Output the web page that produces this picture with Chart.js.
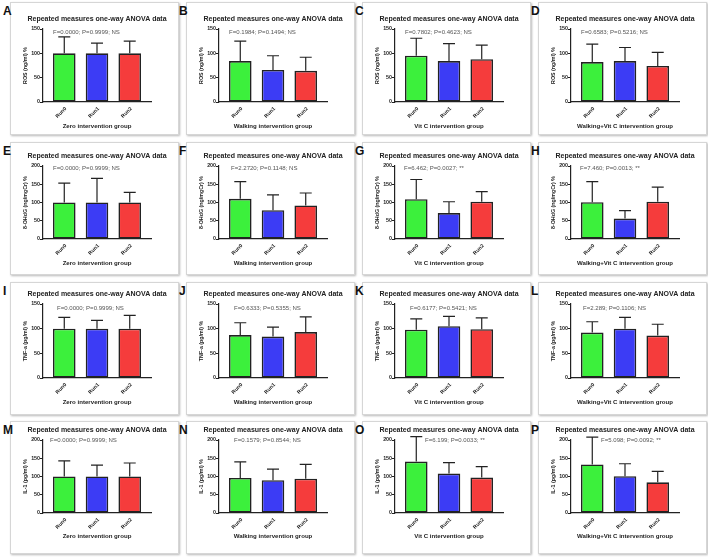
<!DOCTYPE html>
<html><head><meta charset="utf-8">
<script src="https://cdn.jsdelivr.net/npm/chart.js@4.4.1/dist/chart.umd.min.js"></script>
<style>
body{margin:0;background:#fff;width:708px;height:559px;position:relative;overflow:hidden;font-family:"Liberation Sans",Arial,sans-serif}
.box{position:absolute;border:1px solid #d6d6d6;box-shadow:1px 1px 2px rgba(0,0,0,0.28);background:#fff}
.letter{position:absolute;font-weight:bold;font-size:12px;line-height:12px;color:#111}
canvas{position:absolute}
</style></head><body>
<script>
// ---------- data ----------
const categories = ['Run0', 'Run1', 'Run2'];
const panelLetters = ['A','B','C','D','E','F','G','H','I','J','K','L','M','N','O','P'];
const groupNames = ['Zero intervention group', 'Walking intervention group', 'Vit C intervention group', 'Walking+Vit C intervention group'];
const measureLabels = ['ROS (ng/ml) %', '8-OHdG (ng/mgCr) %', 'TNF-a (pg/ml) %', 'IL-1 (pg/ml) %'];
const yMaxByMeasure = [150, 200, 150, 200];
const yStep = 50;
const chartTitle = 'Repeated measures one-way ANOVA data';

// mean (%) and top of the error bar (mean + SD) per group, Run0..Run2
const rosMeans   = [[100,100,100],[84,66,64],[95,84,88],[82,84,74]];
const rosUpper   = [[134,121,125],[125,95,92],[131,120,117],[119,112,102]];
const ohdgMeans  = [[100,100,100],[110,79,92],[109,71,102],[101,56,102]];
const ohdgUpper  = [[153,166,128],[157,121,126],[163,102,130],[157,78,142]];
const tnfMeans   = [[100,100,100],[87,84,93],[98,105,99],[92,100,86]];
const tnfUpper   = [[123,117,127],[112,103,124],[120,125,122],[114,123,109]];
const il1Means   = [[100,100,100],[96,90,94],[141,108,97],[133,101,84]];
const il1Upper   = [[143,131,137],[140,120,133],[209,138,127],[208,135,114]];

const rosStats  = ['F=0.0000; P=0.9999; NS','F=0.1984; P=0.1494; NS','F=0.7802; P=0.4623; NS','F=0.6583; P=0.5216; NS'];
const ohdgStats = ['F=0.0000; P=0.9999; NS','F=2.2720; P=0.1148; NS','F=6.462; P=0.0027; **','F=7.460; P=0.0013; **'];
const tnfStats  = ['F=0.0000; P=0.9999; NS','F=0.6333; P=0.5355; NS','F=0.6177; P=0.5421; NS','F=2.289; P=0.1106; NS'];
const il1Stats  = ['F=0.0000; P=0.9999; NS','F=0.1579; P=0.8544; NS','F=6.199; P=0.0033; **','F=5.098; P=0.0092; **'];

const allMeans = [rosMeans, ohdgMeans, tnfMeans, il1Means];
const allUpper = [rosUpper, ohdgUpper, tnfUpper, il1Upper];
const allStats = [rosStats, ohdgStats, tnfStats, il1Stats];

// ---------- layout / style ----------
const barColors = ['#3cf03c', '#3c3cf5', '#f53c3c'];
const FONT = '"Liberation Sans", Arial, sans-serif';
const colW = 176, canvasW = 176, canvasH = 139;
const rowTops = [0, 140, 280, 419];
const rowGeom = [
  {top:29, bottom:102, title:19, stats:32, xtitle:126},
  {top:26, bottom:99,  title:16, stats:28, xtitle:123},
  {top:24, bottom:98,  title:14, stats:28, xtitle:122},
  {top:21, bottom:94,  title:11, stats:21, xtitle:117}
];
const statsX = [[53,53,53,53],[53,55,52,52],[57,58,58,55],[50,58,73,73]];

const errorBarPlugin = {
  id: 'errorBars',
  afterDatasetsDraw(chart, args, opts) {
    const meta = chart.getDatasetMeta(0);
    const y = chart.scales.y, ctx = chart.ctx;
    ctx.save();
    ctx.strokeStyle = '#222'; ctx.lineWidth = 1.2;
    meta.data.forEach((bar, i) => {
      const top = y.getPixelForValue(opts.upper[i]);
      ctx.beginPath();
      ctx.moveTo(bar.x, bar.y); ctx.lineTo(bar.x, top);
      ctx.moveTo(bar.x - 6, top); ctx.lineTo(bar.x + 6, top);
      ctx.stroke();
    });
    ctx.restore();
  }
};
const panelTextPlugin = {
  id: 'panelText',
  afterDraw(chart, args, opts) {
    const ctx = chart.ctx;
    ctx.save();
    ctx.textBaseline = 'middle';
    ctx.fillStyle = '#222';
    ctx.font = 'bold 7px ' + FONT;
    ctx.textAlign = 'center';
    ctx.fillText(opts.title, 97, opts.titleY);
    ctx.fillStyle = '#555';
    ctx.font = '6.05px ' + FONT;
    ctx.textAlign = 'left';
    ctx.fillText(opts.stats, opts.statsX, opts.statsY);
    // rotated category labels under each bar, placed from the x scale
    const xs = chart.scales.x;
    ctx.fillStyle = '#222';
    ctx.font = 'bold 5.2px ' + FONT;
    ctx.textAlign = 'right';
    xs.ticks.forEach((t) => {
      const px = xs.getPixelForValue(t.value);
      ctx.save();
      ctx.translate(px + 1.5, xs.top + 6);
      ctx.rotate(-Math.PI / 4);
      ctx.fillText(categories[t.value], 0, 0);
      ctx.restore();
    });
    ctx.restore();
  }
};

for (let r = 0; r < 4; r++) {
  for (let c = 0; c < 4; c++) {
    const g = rowGeom[r];
    const left = c * colW, top = rowTops[r];
    const box = document.createElement('div');
    box.className = 'box';
    box.style.cssText = `left:${left+10}px;top:${top+2}px;width:167px;height:131px`;
    document.body.appendChild(box);
    const lt = document.createElement('div');
    lt.className = 'letter';
    lt.textContent = panelLetters[r*4+c];
    lt.style.cssText = `left:${left+3}px;top:${top+5}px`;
    document.body.appendChild(lt);
    const cv = document.createElement('canvas');
    cv.width = canvasW; cv.height = canvasH;
    cv.style.cssText = `left:${left}px;top:${top}px`;
    document.body.appendChild(cv);

    const means = allMeans[r][c], upper = allUpper[r][c];
    const xTitleFont = 6.1;
    new Chart(cv, {
      type: 'bar',
      data: {
        datasets: [{
          data: categories.map((name, i) => ({x: i, y: means[i]})),
          backgroundColor: barColors,
          borderColor: '#222',
          borderWidth: 1.6,
          borderSkipped: false,
          categoryPercentage: 1,
          barPercentage: 0.69
        }]
      },
      options: {
        responsive: false,
        devicePixelRatio: 1,
        animation: false,
        layout: {padding: {top: g.top, right: 25, left: 0, bottom: 0}},
        plugins: {
          legend: {display: false},
          tooltip: {enabled: false},
          errorBars: {upper: upper},
          panelText: {title: chartTitle, titleY: g.title, stats: allStats[r][c], statsX: statsX[r][c], statsY: g.stats}
        },
        scales: {
          x: {
            type: 'linear',
            offset: false,
            min: -0.65, max: 2.65,
            afterBuildTicks: (s) => { s.ticks = categories.map((_, i) => ({value: i})); },
            afterFit: (s) => { s.height = canvasH - g.bottom; },
            grid: {display: false},
            border: {display: true, color: '#222', width: 1.2},
            ticks: {display: false},
            title: {
              display: true, text: groupNames[c],
              font: {family: FONT, size: xTitleFont, weight: 'bold'},
              color: '#222',
              padding: {top: 0, bottom: canvasH - g.xtitle - xTitleFont * 0.6}
            }
          },
          y: {
            min: 0, max: yMaxByMeasure[r],
            afterFit: (s) => { s.width = 43; },
            grid: {drawOnChartArea: false, drawTicks: true, tickLength: 3, color: '#222', tickWidth: 1.2},
            border: {display: true, color: '#222', width: 1.2},
            ticks: {stepSize: yStep, padding: 0, font: {family: FONT, size: 5.3, weight: 'bold'}, color: '#222'},
            title: {
              display: true, text: measureLabels[r],
              font: {family: FONT, size: 5.3, weight: 'bold'},
              color: '#222',
              padding: {top: 22, bottom: 0}
            }
          }
        }
      },
      plugins: [errorBarPlugin, panelTextPlugin]
    });
  }
}
</script>
</body></html>
